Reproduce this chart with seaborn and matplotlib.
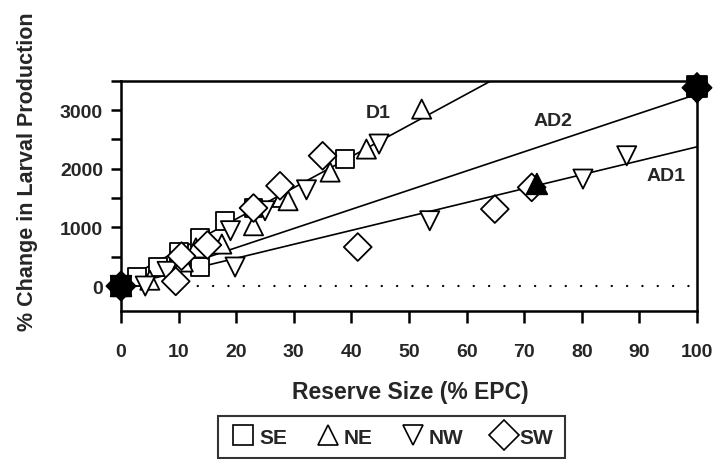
import numpy as np
import pandas as pd
import seaborn as sns
import matplotlib.pyplot as plt
from matplotlib.lines import Line2D
from matplotlib.ticker import MultipleLocator

# open symbols
se_x = [2.7, 6.4, 10.0, 13.7, 13.7, 18.0, 23.0, 38.9]
se_y = [150, 324, 580, 324, 820, 1113, 1330, 2164]
ne_x = [5.0, 10.8, 13.0, 17.5, 23.0, 27.9, 29.0, 36.3, 42.6, 52.2]
ne_y = [100, 410, 650, 716, 1028, 1511, 1454, 1943, 2335, 3016]
nw_x = [4.2, 8.0, 19.8, 19.0, 25.0, 32.2, 44.8, 53.6, 80.2, 87.8]
nw_y = [0, 250, 324, 943, 1283, 1640, 2420, 1113, 1823, 2220]
sw_x = [9.5, 10.5, 15.0, 23.0, 27.6, 35.0, 41.1, 64.9, 71.3]
sw_y = [80, 510, 700, 1330, 1709, 2220, 665, 1312, 1682]

# filled symbols (end points and one mean)
filled_region = ['SE', 'NE', 'NW', 'SW', 'SE', 'NE', 'NW', 'SW', 'NE']
filled_x = [0, 0, 0, 0, 100, 100, 100, 100, 72.2]
filled_y = [0, 0, 0, 0, 3400, 3450, 3300, 3380, 1740]

# fitted lines (end points)
fit_x = [0, 100]
d1_y = [80, 5400]
ad2_y = [0, 3270]
ad1_y = [0, 2373]

line_labels = ['D1', 'AD2', 'AD1']
label_x = [44.6, 75.0, 94.7]
label_y = [2965, 2816, 1880]

regions = ['SE', 'NE', 'NW', 'SW']
marker_map = {'SE': 's', 'NE': '^', 'NW': 'v', 'SW': 'D'}
size_map = {'SE': 165, 'NE': 190, 'NW': 190, 'SW': 200}

df = pd.DataFrame({
    'x': se_x + ne_x + nw_x + sw_x,
    'y': se_y + ne_y + nw_y + sw_y,
    'region': ['SE'] * len(se_x) + ['NE'] * len(ne_x) + ['NW'] * len(nw_x) + ['SW'] * len(sw_x),
})
filled = pd.DataFrame({'x': filled_x, 'y': filled_y, 'region': filled_region})

sns.set_style('ticks')
plt.rcParams['font.family'] = ['Liberation Sans', 'DejaVu Sans']
plt.rcParams['font.weight'] = 'bold'

fig = plt.figure(figsize=(7.17, 4.6), dpi=100)
ax = fig.add_axes([0.1688, 0.3224, 0.8033, 0.5000])

# zero reference line
ax.plot([0, 100], [0, 0], color='black', lw=1.6, linestyle=(0, (0.1, 6.8)),
        dash_capstyle='round', zorder=1)

for ys in (d1_y, ad2_y, ad1_y):
    sns.lineplot(x=fit_x, y=ys, ax=ax, color='black', lw=1.2, zorder=2)

sns.scatterplot(data=df, x='x', y='y', style='region', markers=marker_map,
                style_order=regions, size='region', sizes=size_map,
                facecolor='white', edgecolor='black',
                linewidth=1.3, ax=ax, legend=False, zorder=3, clip_on=False)
sns.scatterplot(data=filled, x='x', y='y', style='region', markers=marker_map,
                style_order=regions, s=220, color='black', edgecolor='black',
                linewidth=1.3, ax=ax, legend=False, zorder=4, clip_on=False)

for t, lx, ly in zip(line_labels, label_x, label_y):
    ax.text(lx, ly, t, ha='center', va='center', fontsize=14, fontweight='bold')

ax.set_xlim(0, 100)
ax.set_ylim(-420, 3500)
ax.set_xticks(range(0, 101, 10))
ax.set_yticks([0, 1000, 2000, 3000])
ax.yaxis.set_minor_locator(MultipleLocator(500))
ax.tick_params(axis='both', which='both', direction='out', width=1.8,
               labelsize=14, color='black')
ax.tick_params(axis='x', length=8.5, pad=15)
ax.tick_params(axis='y', which='both', length=7, pad=6)
for lab in ax.get_xticklabels() + ax.get_yticklabels():
    lab.set_fontweight('bold')
for sp in ax.spines.values():
    sp.set_visible(True)
    sp.set_linewidth(1.8)
    sp.set_color('black')

ax.set_xlabel('Reserve Size (% EPC)', fontsize=16.5, fontweight='bold')
ax.set_ylabel('% Change in Larval Production', fontsize=15.5, fontweight='bold')
ax.xaxis.set_label_coords(0.503, -0.30)
ax.yaxis.set_label_coords(-0.145, 0.607)

handles = [Line2D([], [], marker=marker_map[r], linestyle='none', markersize=15,
                  markerfacecolor='white', markeredgecolor='black', markeredgewidth=1.2)
           for r in regions]
leg = fig.legend(handles, regions, loc='upper center', bbox_to_anchor=(0.546, 0.116),
                 ncol=4, frameon=True, fancybox=False, fontsize=15, handletextpad=0.1,
                 columnspacing=1.3, handlelength=1.3, borderpad=0.55)
leg.get_frame().set_edgecolor('black')
leg.get_frame().set_linewidth(1.5)
for t in leg.get_texts():
    t.set_fontweight('bold')

fig.savefig('out.png', dpi=100)
